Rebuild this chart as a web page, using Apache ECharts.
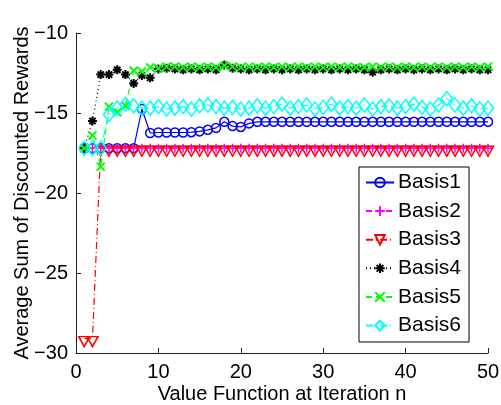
<!DOCTYPE html>
<html><head><meta charset="utf-8">
<script src="https://cdn.jsdelivr.net/npm/echarts@6/dist/echarts.min.js"></script>
<style>html,body{margin:0;padding:0;background:#fff}#c{width:501px;height:405px}</style>
</head><body><div id="c"></div>
<script>
const iterations = Array.from({length: 50}, (_, k) => k + 1);
const seriesNames = ['Basis1','Basis2','Basis3','Basis4','Basis5','Basis6'];
const xTicks = [0, 10, 20, 30, 40, 50];
const yTicks = [-30, -25, -20, -15, -10];

const basis1 = [-17.2,-17.2,-17.2,-17.2,-17.2,-17.2,-17.2,-14.75,-16.25,-16.22,
  -16.22,-16.22,-16.22,-16.2,-16.15,-16.05,-15.93,-15.55,-15.82,-15.87,
  -15.65,-15.55,-15.55,-15.55,-15.55,-15.55,-15.55,-15.55,-15.55,-15.55,
  -15.55,-15.55,-15.55,-15.55,-15.55,-15.55,-15.55,-15.55,-15.55,-15.55,
  -15.55,-15.55,-15.55,-15.55,-15.55,-15.55,-15.55,-15.55,-15.55,-15.55];
const basis2 = [-17.2,-17.2,-17.2,-17.2,-17.2,-17.2,-17.2,-17.2,-17.2,-17.2,
  -17.2,-17.2,-17.2,-17.2,-17.2,-17.2,-17.2,-17.2,-17.2,-17.2,
  -17.2,-17.2,-17.2,-17.2,-17.2,-17.2,-17.2,-17.2,-17.2,-17.2,
  -17.2,-17.2,-17.2,-17.2,-17.2,-17.2,-17.2,-17.2,-17.2,-17.2,
  -17.2,-17.2,-17.2,-17.2,-17.2,-17.2,-17.2,-17.2,-17.2,-17.2];
const basis3 = [-29.1,-29.1,-17.2,-17.2,-17.2,-17.2,-17.2,-17.2,-17.2,-17.2,
  -17.2,-17.2,-17.2,-17.2,-17.2,-17.2,-17.2,-17.2,-17.2,-17.2,
  -17.2,-17.2,-17.2,-17.2,-17.2,-17.2,-17.2,-17.2,-17.2,-17.2,
  -17.2,-17.2,-17.2,-17.2,-17.2,-17.2,-17.2,-17.2,-17.2,-17.2,
  -17.2,-17.2,-17.2,-17.2,-17.2,-17.2,-17.2,-17.2,-17.2,-17.2];
const basis4 = [-17.2,-15.5,-12.6,-12.6,-12.3,-12.6,-13.15,-12.65,-12.8,-12.25,
  -12.2,-12.25,-12.3,-12.25,-12.3,-12.25,-12.3,-12.0,-12.2,-12.25,
  -12.3,-12.25,-12.3,-12.25,-12.3,-12.25,-12.3,-12.25,-12.3,-12.25,
  -12.3,-12.25,-12.3,-12.25,-12.3,-12.45,-12.3,-12.25,-12.3,-12.25,
  -12.3,-12.25,-12.3,-12.25,-12.3,-12.25,-12.3,-12.25,-12.3,-12.3];
const basis5 = [-17.2,-16.4,-18.35,-14.6,-14.95,-14.55,-12.35,-12.4,-12.15,-12.2,
  -12.1,-12.1,-12.15,-12.1,-12.15,-12.1,-12.15,-12.05,-12.1,-12.15,
  -12.1,-12.15,-12.1,-12.15,-12.1,-12.15,-12.1,-12.15,-12.1,-12.15,
  -12.1,-12.15,-12.1,-12.15,-12.15,-12.1,-12.15,-12.1,-12.15,-12.1,
  -12.15,-12.1,-12.15,-12.1,-12.15,-12.1,-12.15,-12.1,-12.15,-12.1];
const basis6 = [-17.2,-17.2,-17.2,-15.1,-14.7,-14.45,-14.55,-14.7,-14.7,-14.6,
  -14.75,-14.7,-14.6,-14.75,-14.55,-14.5,-14.6,-14.7,-14.65,-14.75,
  -14.7,-14.55,-14.7,-14.6,-14.45,-14.7,-14.6,-14.5,-14.75,-14.65,
  -14.45,-14.7,-14.6,-14.7,-14.5,-14.75,-14.6,-14.55,-14.7,-14.6,
  -14.45,-14.65,-14.75,-14.5,-14.1,-14.5,-14.7,-14.55,-14.75,-14.7];

const FONT = '"Liberation Sans", Arial, Helvetica, sans-serif';
const pair = arr => iterations.map((x, k) => [x, arr[k]]);
const minus = v => String(v).replace('-', '\u2212');

const styles = [
  {color:'#0000ff', dash:'solid', symbol:'circle', size:9},
  {color:'#ff00ff', dash:[6,4], symbol:'path://M0,5L10,5M5,0L5,10', size:9},
  {color:'#ff0000', dash:[7,3,1,3], symbol:'triangle', size:[11,10], rotate:180, offset:[0,3]},
  {color:'#000000', dash:[1,3], symbol:'path://M5,0L5,10M0,5L10,5M1.5,1.5L8.5,8.5M8.5,1.5L1.5,8.5', size:9, bw:2},
  {color:'#00ff00', dash:[6,4], symbol:'path://M0,0L10,10M10,0L0,10', size:8, bw:2},
  {color:'#00ffff', dash:[7,3,1,3], symbol:'diamond', size:[11,14]}
];
const allData = [basis1, basis2, basis3, basis4, basis5, basis6];

const series = seriesNames.map((name, k) => {
  const s = styles[k];
  return {
    name, type:'line', data: pair(allData[k]),
    symbol: s.symbol, symbolSize: s.size, symbolRotate: s.rotate || 0,
    symbolOffset: s.offset || [0,0], showAllSymbol: true,
    lineStyle: {color: s.color, width: 1.2, type: s.dash},
    itemStyle: {color: 'rgba(255,255,255,0)', borderColor: s.color, borderWidth: s.bw || 1.5},
    emphasis: {disabled: true}, animation: false
  };
});

const chart = echarts.init(document.getElementById('c'), null, {renderer:'canvas'});
chart.setOption({
  backgroundColor:'#ffffff',
  animation:false,
  grid:{left:76, right:13, top:33, bottom:52, containLabel:false, outerBoundsMode:'none'},
  xAxis:{type:'value', min:0, max:50, interval:10,
    name:'Value Function at Iteration n', nameLocation:'middle', nameGap:31, nameMoveOverlap:false,
    nameTextStyle:{fontFamily:FONT, fontSize:20, color:'#000'},
    axisLine:{show:true, lineStyle:{color:'#222', width:1}},
    axisTick:{show:true, inside:true, length:5, lineStyle:{color:'#222'}},
    axisLabel:{fontFamily:FONT, fontSize:20, color:'#000', margin:9, formatter:v => xTicks.includes(v) ? minus(v) : ''},
    splitLine:{show:false}},
  yAxis:{type:'value', min:-30, max:-10, interval:5,
    name:'Average Sum of Discounted Rewards', nameLocation:'middle', nameGap:44, nameRotate:90, nameMoveOverlap:false,
    nameTextStyle:{fontFamily:FONT, fontSize:20, color:'#000'},
    axisLine:{show:true, lineStyle:{color:'#222', width:1}},
    axisTick:{show:true, inside:true, length:5, lineStyle:{color:'#222'}},
    axisLabel:{fontFamily:FONT, fontSize:20, color:'#000', margin:8, formatter:v => yTicks.includes(v) ? minus(v) : ''},
    splitLine:{show:false}},
  legend:{orient:'vertical', left:359, top:167, data:seriesNames,
    backgroundColor:'#fff', borderColor:'#000', borderWidth:1, borderRadius:0,
    padding:[5,8,6,6], itemWidth:28, itemHeight:12, itemGap:7.6,
    textStyle:{fontFamily:FONT, fontSize:21, color:'#000', lineHeight:21, padding:[0,0,0,-1]}},
  series
});
</script></body></html>
